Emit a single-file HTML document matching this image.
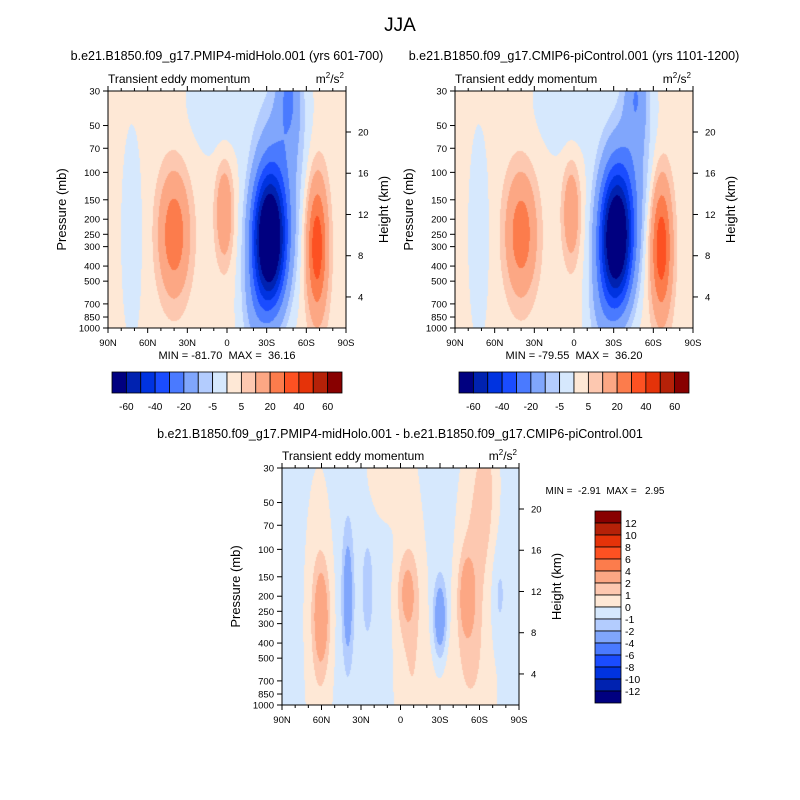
<!DOCTYPE html>
<html><head><meta charset="utf-8">
<style>
body{margin:0;background:#fff;}
#wrap{position:relative;width:800px;height:800px;overflow:hidden;font-family:"Liberation Sans",sans-serif;}
canvas{position:absolute;}
svg{position:absolute;left:0;top:0;}
text{white-space:pre;}
</style></head>
<body>
<div id="wrap">
<canvas id="c1" width="238" height="237" style="left:108px;top:91px"></canvas>
<canvas id="c2" width="238" height="237" style="left:455px;top:91px"></canvas>
<canvas id="c3" width="237" height="237" style="left:282px;top:468px"></canvas>
<svg id="s" width="800" height="800" xmlns="http://www.w3.org/2000/svg"></svg>
</div>
<script>
// ---- data: features (lat, pressure mb, amplitude, lat sigma, lnp sigma) ----
const p1Lat = [40, 2, -32, -68, -47, 5, 72, -45, -20, -40];
const p1P   = [250, 180, 270, 300, 30, 35, 250, 60, 800, 120];
const p1Amp = [26, 18, -86, 36, -16, -6, -5, -8, -8, -6];
const p1SL  = [8, 4.5, 9, 5.5, 6, 18, 6, 12, 8, 14];
const p1SP  = [0.62, 0.5, 0.7, 0.7, 0.5, 0.6, 1.2, 0.8, 0.6, 1.2];
const p1Bg = 2;
const p2Lat = [40, 2, -32, -66, -47, 5, 72, -45, -20, -40];
const p2P   = [250, 180, 270, 300, 30, 35, 250, 60, 800, 120];
const p2Amp = [25, 17, -84, 36, -16, -6, -5, -8, -8, -6];
const p2SL  = [8, 4.5, 9, 5.5, 6, 18, 6, 12, 8, 14];
const p2SP  = [0.62, 0.5, 0.7, 0.7, 0.5, 0.6, 1.2, 0.8, 0.6, 0.6];
const p2Bg = 2;
const dLat = [62, 60, -8, -5, -55, -65, -50, 10, -45, 40, 25, -30, -75];
const dP   = [300, 270, 400, 190, 150, 40, 200, 30, 700, 200, 180, 280, 200];
const dAmp = [1.2, 3, 1.2, 2, 1.5, 1.5, 2.6, 1, 0.8, -3, -1.5, -3.6, -1];
const dSL  = [7, 4, 8, 5, 8, 6, 4, 10, 20, 3, 3, 3.5, 4];
const dSP  = [1.4, 0.5, 1.5, 0.4, 1.2, 0.8, 0.4, 0.5, 0.8, 0.7, 0.5, 0.4, 0.5];
const dBg = -0.3;
const levTop = [-60,-50,-40,-30,-20,-10,-5,0,5,10,20,30,40,50,60];
const levDiff = [-12,-10,-8,-6,-4,-2,-1,0,1,2,4,6,8,10,12];
const levTopLabels = ["-60","-40","-20","-5","5","20","40","60"];
const levDiffLabels = ["12","10","8","6","4","2","1","0","-1","-2","-4","-6","-8","-10","-12"];
const colors = ["#000080","#0022b0","#0033e0","#1a4cff","#4a7aff","#80a6fc","#b3ccfe","#d6e8fd","#fee8d6","#fdc8b0","#fca784","#fc7c4c","#fd5122","#e53309","#b52108","#880000"];
const pTicks = [30,50,70,100,150,200,250,300,400,500,700,850,1000];
const zTicks = [4,8,12,16,20];
const latTicks = [90,60,30,0,-30,-60,-90];
const latLabels = ["90N","60N","30N","0","30S","60S","90S"];

function hex(c){return [parseInt(c.substr(1,2),16),parseInt(c.substr(3,2),16),parseInt(c.substr(5,2),16)];}
const rgb = colors.map(hex);
function field(lat,p,L,P,A,SL,SP,bg){
  let v=bg;
  for(let i=0;i<L.length;i++){
    const dl=(lat-L[i])/SL[i], dp=Math.log(p/P[i])/SP[i];
    v+=A[i]*Math.exp(-0.5*(dl*dl+dp*dp));
  }
  return v;
}
function levIdx(v,lev){let k=0;while(k<lev.length&&v>=lev[k])k++;return k;}
function drawField(id,L,P,A,SL,SP,bg,lev){
  const cv=document.getElementById(id),ctx=cv.getContext('2d');
  const w=cv.width,h=cv.height,img=ctx.createImageData(w,h);
  for(let y=0;y<h;y++){
    const p=30*Math.exp((y+0.5)/h*Math.log(1000/30));
    for(let x=0;x<w;x++){
      const lat=90-(x+0.5)/w*180;
      const c=rgb[levIdx(field(lat,p,L,P,A,SL,SP,bg),lev)];
      const o=(y*w+x)*4;img.data[o]=c[0];img.data[o+1]=c[1];img.data[o+2]=c[2];img.data[o+3]=255;
    }
  }
  ctx.putImageData(img,0,0);
}
drawField('c1',p1Lat,p1P,p1Amp,p1SL,p1SP,p1Bg,levTop);
drawField('c2',p2Lat,p2P,p2Amp,p2SL,p2SP,p2Bg,levTop);
drawField('c3',dLat,dP,dAmp,dSL,dSP,dBg,levDiff);

const S=document.getElementById('s');const NS="http://www.w3.org/2000/svg";
function el(tag,attrs,txt){const e=document.createElementNS(NS,tag);for(const k in attrs)e.setAttribute(k,attrs[k]);if(txt!==undefined)e.textContent=txt;S.appendChild(e);return e;}
function text(x,y,t,size,anchor,name,extra){const e=el('text',Object.assign({x:x,y:y,'font-size':size,'text-anchor':anchor||'start',fill:'#000','font-family':'Liberation Sans, sans-serif'},extra||{}),t);

return e;}

function panel(x0,y0,w,h,tag){
  const yP=p=>y0+Math.log(p/30)/Math.log(1000/30)*h;
  const xL=l=>x0+(90-l)/180*w;
  const fr=el('rect',{x:x0,y:y0,width:w,height:h,fill:'none',stroke:'#000','stroke-width':1});
  
  
  pTicks.forEach(p=>{const y=yP(p);el('line',{x1:x0-5,x2:x0,y1:y,y2:y,stroke:'#000'});
    text(x0-8,y+3.5,String(p),9.5,'end',tag+'-pressure-tick');});
  zTicks.forEach(z=>{const y=y0+(1.043-0.0435*z)*h;el('line',{x1:x0+w,x2:x0+w+5,y1:y,y2:y,stroke:'#000'});
    text(x0+w+12,y+3.5,String(z),9.5,'start',tag+'-height-tick');});
  for(let l=90;l>=-90;l-=10){const x=xL(l);const maj=(l%30===0);
    el('line',{x1:x,x2:x,y1:y0+h,y2:y0+h+(maj?5:3),stroke:'#000'});
    el('line',{x1:x,x2:x,y1:y0,y2:y0-(maj?5:3),stroke:'#000'});}
  latTicks.forEach((l,i)=>text(xL(l),y0+h+18,latLabels[i],9.5,'middle',tag+'-lat-tick'));
  text(0,0,'Pressure (mb)',13,'middle',tag+'-y-axis-title',{transform:`translate(${x0-42},${y0+h/2}) rotate(-90)`});
  text(0,0,'Height (km)',13,'middle',tag+'-right-axis-title',{transform:`translate(${x0+w+42},${y0+h/2}) rotate(-90)`});
  text(x0,y0-8,'Transient eddy momentum',12,'start',tag+'-left-subtitle');
  const u=text(x0+w-2,y0-8,'m',12,'end',tag+'-units');
  u.innerHTML='m<tspan font-size="8" dy="-5">2</tspan><tspan dy="5">/s</tspan><tspan font-size="8" dy="-5">2</tspan>';
}
function hbar(x0,y0,w,h,tag){
  const bw=w/colors.length;
  colors.forEach((c,i)=>{const r=el('rect',{x:x0+i*bw,y:y0,width:bw,height:h,fill:c,stroke:'#000','stroke-width':0.8});
    
    });
  levTopLabels.forEach((t,i)=>text(x0+(2*i+1)*bw,y0+h+17,t,10,'middle',tag+'-colorbar-label'));
}
function vbar(x0,y0,w,h,tag){
  const bh=h/colors.length;
  colors.slice().reverse().forEach((c,i)=>{const r=el('rect',{x:x0,y:y0+i*bh,width:w,height:bh,fill:c,stroke:'#000','stroke-width':0.8});
    
    });
  levDiffLabels.forEach((t,i)=>text(x0+w+4,y0+(i+1)*bh+4,t,10.5,'start',tag+'-colorbar-label'));
}
text(400,31,'JJA',19,'middle','main-title');
text(227,60,'b.e21.B1850.f09_g17.PMIP4-midHolo.001 (yrs 601-700)',12.5,'middle','left-panel-title');
text(574,60,'b.e21.B1850.f09_g17.CMIP6-piControl.001 (yrs 1101-1200)',12.5,'middle','right-panel-title');
text(400,438,'b.e21.B1850.f09_g17.PMIP4-midHolo.001 - b.e21.B1850.f09_g17.CMIP6-piControl.001',12.5,'middle','diff-panel-title');
panel(108,91,238,237,'midholo');
panel(455,91,238,237,'picontrol');
panel(282,468,237,237,'diff');
text(227,359,'MIN = -81.70  MAX =  36.16',11,'middle','midholo-minmax');
text(574,359,'MIN = -79.55  MAX =  36.20',11,'middle','picontrol-minmax');
text(605,494,'MIN =  -2.91  MAX =   2.95',10,'middle','diff-minmax');
hbar(112,372,230,21,'midholo');
hbar(459,372,230,21,'picontrol');
vbar(595,511,26,192,'diff');
</script>
</body></html>
